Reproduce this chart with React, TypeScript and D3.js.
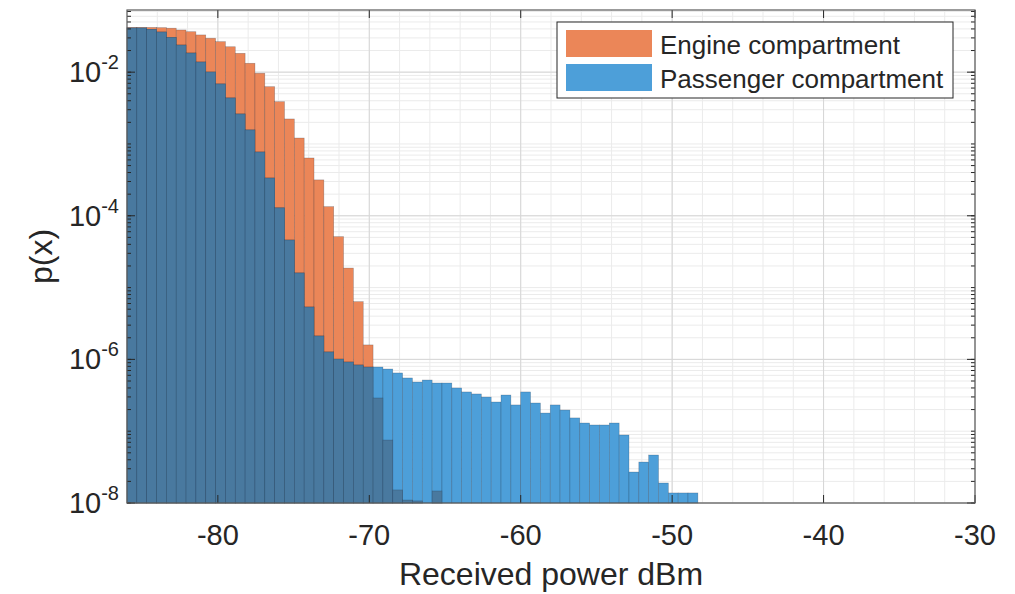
import React from "react";
import * as d3 from "d3";

// ---- data ----
const BIN_START = -86; // dBm, left edge of first bin
const BIN_WIDTH = 0.65; // dBm

const engine: number[] = [
  0.042, 0.042, 0.042, 0.0417, 0.041, 0.0387, 0.0366, 0.033, 0.0297, 0.0266,
  0.0226, 0.0183, 0.0133, 0.00966, 0.00628, 0.00388, 0.00223, 0.00121, 6.38e-4, 3.16e-4,
  1.34e-4, 5.12e-5, 1.87e-5, 6.37e-6, 1.59e-6, 2.9e-7, 7.53e-8, 1.52e-8, 1.1e-8, 1.07e-8,
  0, 1.47e-8,
];

const passenger: number[] = [
  0.0413, 0.0413, 0.0394, 0.0363, 0.0304, 0.0239, 0.0185, 0.01387, 0.01007, 0.00686,
  0.00438, 0.00262, 0.00157, 7.74e-4, 3.36e-4, 1.29e-4, 4.6e-5, 1.6e-5, 5.37e-6, 2.12e-6,
  1.27e-6, 1.01e-6, 9.2e-7, 8.36e-7, 7.83e-7, 7.83e-7, 7.34e-7, 6.47e-7, 5.51e-7, 4.84e-7,
  5.16e-7, 4.69e-7, 4.69e-7, 4.0e-7, 3.52e-7, 3.3e-7, 2.99e-7, 2.55e-7, 3.19e-7, 2.32e-7,
  3.52e-7, 2.47e-7, 1.79e-7, 2.32e-7, 1.97e-7, 1.53e-7, 1.3e-7, 1.22e-7, 1.22e-7, 1.3e-7,
  8.85e-8, 2.7e-8, 3.72e-8, 4.66e-8, 1.9e-8, 1.38e-8, 1.38e-8, 1.38e-8,
];

const xTicks = [-80, -70, -60, -50, -40, -30];
const yTickExps = [-8, -6, -4, -2];
const legendLabels = ["Engine compartment", "Passenger compartment"];
const xLabel = "Received power dBm";
const yLabel = "p(x)";

// ---- layout ----
const W = 1015;
const H = 594;
const L = 127;
const R = 975;
const T = 10;
const B = 503;

const C_ORANGE = "#EB8658";
const C_BLUE = "#4D9FD9";
const C_DARK = "#49799F";
const FONT = "'Liberation Sans', Arial, Helvetica, sans-serif";

export default function App() {
  const x = d3.scaleLinear().domain([-86, -30]).range([L, R]);
  const y = d3.scaleLog().domain([1e-8, 0.0734]).range([B, T]).clamp(true);

  const bars = (vals: number[]) =>
    vals.map((v, i) => {
      const x0 = x(BIN_START + i * BIN_WIDTH);
      const x1 = x(BIN_START + (i + 1) * BIN_WIDTH);
      const top = v > 0 ? y(v) : B;
      return { x0, x1, top, v };
    });

  const eBars = bars(engine);
  const pBars = bars(passenger);
  const overlap = pBars
    .map((b, i) => {
      const ev = engine[i] ?? 0;
      const v = Math.min(ev, b.v);
      return { x0: b.x0, x1: b.x1, top: v > 0 ? y(v) : B, v };
    })
    .filter((b) => b.v > 0);

  // grid
  const xMinor = d3.range(-86, -29.99, 2).filter((v) => v > -86 && v < -30);
  const xMajor = xTicks;
  const yMinor: number[] = [];
  for (let e = -8; e <= -2; e++) {
    for (let k = 1; k <= 9; k++) {
      const v = k * Math.pow(10, e);
      if (v >= 1e-8 && v <= 0.0734) yMinor.push(v);
    }
  }

  const strokeEdge = "rgba(25,40,60,0.35)";

  const barRects = (arr: { x0: number; x1: number; top: number; v: number }[], fill: string, key: string) =>
    arr
      .filter((b) => b.v > 0 && b.top < B)
      .map((b, i) => (
        <rect
          key={key + i}
          x={b.x0}
          y={b.top}
          width={b.x1 - b.x0}
          height={B - b.top}
          fill={fill}
          stroke={strokeEdge}
          strokeWidth={0.6}
        />
      ));

  return (
    <svg
      width={W}
      height={H}
      viewBox={`0 0 ${W} ${H}`}
      style={{ position: "absolute", left: 0, top: 0, background: "#fff" }}
      fontFamily={FONT}
    >
      <rect x={0} y={0} width={W} height={H} fill="#fff" />
      <rect x={L} y={T} width={R - L} height={B - T} fill="#fff" />
      {/* minor grid */}
      <g stroke="#ebebeb" strokeWidth={1}>
        {xMinor.map((v) => (
          <line key={"xm" + v} x1={x(v)} x2={x(v)} y1={T} y2={B} />
        ))}
        {yMinor.map((v, i) => (
          <line key={"ym" + i} x1={L} x2={R} y1={y(v)} y2={y(v)} />
        ))}
      </g>
      {/* major grid */}
      <g stroke="#d6d6d6" strokeWidth={1}>
        {xMajor.map((v) => (
          <line key={"xM" + v} x1={x(v)} x2={x(v)} y1={T} y2={B} />
        ))}
        {yTickExps.map((e) => (
          <line key={"yM" + e} x1={L} x2={R} y1={y(Math.pow(10, e))} y2={y(Math.pow(10, e))} />
        ))}
      </g>

      {/* bars */}
      {barRects(eBars, C_ORANGE, "e")}
      {barRects(pBars, C_BLUE, "p")}
      {barRects(overlap, C_DARK, "o")}

      {/* ticks */}
      <g stroke="#262626" strokeWidth={1}>
        {xTicks.map((v) => (
          <g key={"xt" + v}>
            <line x1={x(v)} x2={x(v)} y1={B} y2={B - 8} />
            <line x1={x(v)} x2={x(v)} y1={T} y2={T + 8} />
          </g>
        ))}
        {yMinor.map((v, i) => (
          <g key={"ymt" + i}>
            <line x1={L} x2={L + 4} y1={y(v)} y2={y(v)} />
            <line x1={R} x2={R - 4} y1={y(v)} y2={y(v)} />
          </g>
        ))}
        {yTickExps.map((e) => (
          <g key={"yt" + e}>
            <line x1={L} x2={L + 8} y1={y(Math.pow(10, e))} y2={y(Math.pow(10, e))} />
            <line x1={R} x2={R - 8} y1={y(Math.pow(10, e))} y2={y(Math.pow(10, e))} />
          </g>
        ))}
      </g>
      {/* frame */}
      <rect x={L} y={T} width={R - L} height={B - T} fill="none" stroke="#5a5a5a" strokeWidth={1.2} />

      {/* x tick labels */}
      <g fill="#262626" fontSize={29} textAnchor="middle">
        {xTicks.map((v) => (
          <text key={"xl" + v} x={x(v)} y={B + 42}>
            {v}
          </text>
        ))}
      </g>
      {/* y tick labels */}
      <g fill="#262626" textAnchor="end">
        {yTickExps.map((e) => (
          <text key={"yl" + e} x={L - 8} y={y(Math.pow(10, e)) + 10} fontSize={29}>
            10
            <tspan fontSize={20} dy={-13}>
              {e}
            </tspan>
          </text>
        ))}
      </g>

      {/* axis labels */}
      <text x={(L + R) / 2} y={585} textAnchor="middle" fontSize={32} fill="#262626">
        {xLabel}
      </text>
      <text
        transform={`translate(52, ${(T + B) / 2}) rotate(-90)`}
        textAnchor="middle"
        fontSize={32}
        fill="#262626"
      >
        {yLabel}
      </text>

      {/* legend */}
      <g>
        <rect x={557} y={22} width={396} height={76} fill="#fff" stroke="#262626" strokeWidth={1} />
        <rect x={566} y={30} width={86} height={27} fill={C_ORANGE} />
        <rect x={566} y={64} width={86} height={27} fill={C_BLUE} />
        <text x={660} y={54} fontSize={26} fill="#262626">
          {legendLabels[0]}
        </text>
        <text x={660} y={88} fontSize={26} fill="#262626">
          {legendLabels[1]}
        </text>
      </g>
    </svg>
  );
}
